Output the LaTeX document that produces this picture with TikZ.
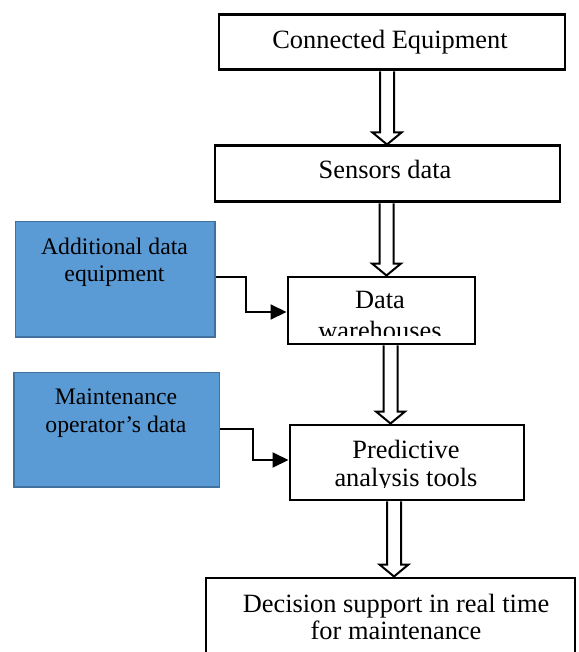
\documentclass[tikz,border=0pt]{standalone}
\usepackage{fontspec}
\setmainfont{Liberation Serif}
\usetikzlibrary{calc,arrows.meta}
\definecolor{boxblue}{HTML}{5B9BD5}
\definecolor{boxblueedge}{HTML}{41719C}
\newcommand\hollowarrow[3]{%
  \draw[hollow] let \p1=(#1.south), \p2=(#2.north) in
    ({(#3-7)*1pt},\y1) -- ({(#3-7)*1pt},{\y2+12pt}) -- ({(#3-14.5)*1pt},{\y2+12pt})
    -- ({#3*1pt},\y2) -- ({(#3+14.5)*1pt},{\y2+12pt}) -- ({(#3+7)*1pt},{\y2+12pt})
    -- ({(#3+7)*1pt},\y1);}
\begin{document}
\begin{tikzpicture}[x=1pt,y=-1pt,
  mainbox/.style={draw=black,line width=2.8pt,fill=white,rectangle,inner sep=0pt,anchor=north west},
  bluebox/.style={draw=boxblueedge,line width=1.5pt,fill=boxblue,rectangle,inner sep=0pt,anchor=north west},
  txt/.style={anchor=base,inner sep=0pt,font=\fontsize{26.4}{30}\selectfont},
  btxt/.style={anchor=base,inner sep=0pt,font=\fontsize{23.7}{27}\selectfont},
  hollow/.style={draw=black,line width=2pt,fill=white,line join=miter},
  conn/.style={draw=black,line width=2pt,-{Triangle[length=16pt,width=15pt]}}]
\useasboundingbox (0,0) rectangle (578,652);
\clip (0,0) rectangle (578,652);
\fill[white] (0,0) rectangle (578,652);

% boxes
\node[mainbox,minimum width=346pt,minimum height=55pt] (ce) at (217.5,13.5) {};
\node[mainbox,minimum width=345pt,minimum height=56pt] (sd) at (213.5,144.5) {};
\node[mainbox,minimum width=187pt,minimum height=67pt] (dw) at (286.5,275.5) {};
\node[mainbox,minimum width=234pt,minimum height=75pt] (pa) at (288.5,423.5) {};
\node[mainbox,minimum width=369pt,minimum height=104pt] (ds) at (204.5,576.5) {};
\node[bluebox,minimum width=199.5pt,minimum height=115.5pt] (ad) at (14.75,220.75) {};
\node[bluebox,minimum width=205.5pt,minimum height=114.5pt] (mo) at (13.25,371.75) {};

% texts
\node[txt] (ceT) at (390,49) {Connected Equipment};
\node[txt] (sdT) at (385,179) {Sensors data};
\node[txt] (dwT1) at (380,308) {Data};
\begin{scope}
  \clip (288,277) rectangle (472,335);
  \node[txt] (dwT2) at (380,339) {warehouses};
\end{scope}
\node[txt] (paT1) at (406,458) {Predictive};
\begin{scope}
  \clip (290,425) rectangle (521,487.5);
  \node[txt] (paT2) at (406,486) {analysis tools};
\end{scope}
\node[txt] (dsT1) at (396,612) {Decision support in real time};
\node[txt] (dsT2) at (396,639) {for maintenance};
\node[btxt] (adT1) at (114.5,254) {Additional data};
\node[btxt] (adT2) at (114.5,281) {equipment};
\node[btxt] (moT1) at (116,404) {Maintenance};
\node[btxt] (moT2) at (116,432) {operator’s data};

% hollow arrows
\hollowarrow{ce}{sd}{387}
\hollowarrow{sd}{dw}{386.5}
\hollowarrow{dw}{pa}{390.5}
\hollowarrow{pa}{ds}{394}

% side connectors
\draw[conn] (ad.east |- 0,277) -- (246,277) -- (246,312) -- (dw.west |- 0,312);
\draw[conn] (mo.east |- 0,429) -- (253,429) -- (253,460) -- (pa.west |- 0,460);
\end{tikzpicture}
\end{document}
